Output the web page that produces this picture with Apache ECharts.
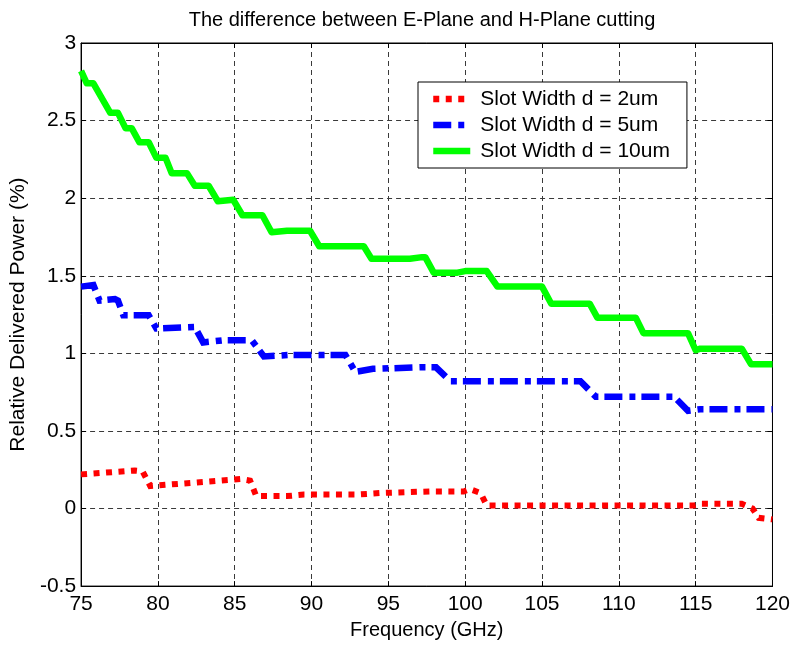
<!DOCTYPE html>
<html>
<head>
<meta charset="utf-8">
<title>E-Plane vs H-Plane cutting</title>
<script src="https://cdn.jsdelivr.net/npm/echarts@6/dist/echarts.min.js"></script>
<style>
  html, body { margin: 0; padding: 0; background: #fff; }
  #chart { width: 793px; height: 645px; }
</style>
</head>
<body>
<div id="chart"></div>
<script>
// Relative delivered power (%) versus frequency (GHz) for three slot widths.
const seriesNames = ['Slot Width d = 2um', 'Slot Width d = 5um', 'Slot Width d = 10um'];

const freq2um = [75, 78.5, 79, 79.5, 85.4, 86, 86.4, 88.4, 89.5, 93, 94.5, 97.7, 99.9, 100.3, 101, 101.4, 114.9, 115.4, 118, 118.7, 119.1, 120];
const power2um = [0.22, 0.245, 0.24, 0.145, 0.19, 0.18, 0.08, 0.08, 0.09, 0.09, 0.10, 0.11, 0.11, 0.125, 0.10, 0.02, 0.02, 0.03, 0.03, 0.0, -0.06, -0.07];

const freq5um = [75, 75.8, 76.2, 77.2, 77.4, 77.75, 79.4, 79.9, 82.4, 82.95, 84.3, 86.1, 86.9, 88.6, 92.2, 92.85, 94, 97.1, 98.1, 99.05, 107.5, 108.5, 113.6, 114.5, 115.3, 120];
const power5um = [1.43, 1.44, 1.34, 1.35, 1.34, 1.245, 1.245, 1.16, 1.17, 1.07, 1.085, 1.085, 0.98, 0.99, 0.99, 0.88, 0.90, 0.91, 0.91, 0.82, 0.82, 0.72, 0.72, 0.63, 0.64, 0.64];

const freq10um = [75, 75.37, 75.8, 76.9, 77.4, 77.9, 78.3, 78.8, 79.4, 79.9, 80.5, 80.9, 81.9, 82.4, 83.3, 83.9, 84.9, 85.5, 86.8, 87.4, 88.4, 89.9, 90.5, 93.4, 93.9, 96.4, 97.2, 97.4, 97.95, 99.5, 100, 101.4, 102.1, 105, 105.6, 108.1, 108.6, 111.1, 111.6, 114.5, 115, 115.3, 118, 118.6, 120];
const power10um = [2.82, 2.74, 2.74, 2.55, 2.55, 2.45, 2.45, 2.36, 2.36, 2.26, 2.26, 2.16, 2.16, 2.08, 2.08, 1.98, 1.99, 1.89, 1.89, 1.78, 1.79, 1.79, 1.69, 1.69, 1.61, 1.61, 1.62, 1.62, 1.52, 1.52, 1.53, 1.53, 1.43, 1.43, 1.32, 1.32, 1.23, 1.23, 1.13, 1.13, 1.02, 1.03, 1.03, 0.93, 0.93];

const xTicks = [75, 80, 85, 90, 95, 100, 105, 110, 115, 120];
const yTicks = [-0.5, 0, 0.5, 1, 1.5, 2, 2.5, 3];

const pairs = (xs, ys) => xs.map((x, i) => [x, ys[i]]);

const FONT = '"Liberation Sans", Arial, sans-serif';

const chart = echarts.init(document.getElementById('chart'), null, { renderer: 'canvas' });

const gridDash = { color: '#3a3a3a', width: 1, type: [5, 4] };
const tickStyle = { show: true, inside: true, length: 5, lineStyle: { color: '#000', width: 1 } };
const frameLine = { show: true, onZero: false, lineStyle: { color: '#000', width: 1 } };

const xBase = {
  type: 'value',
  min: xTicks[0],
  max: xTicks[xTicks.length - 1],
  interval: xTicks[1] - xTicks[0]
};
const yBase = {
  type: 'value',
  min: yTicks[0],
  max: yTicks[yTicks.length - 1],
  interval: yTicks[1] - yTicks[0]
};

chart.setOption({
  animation: false,
  backgroundColor: '#fff',
  textStyle: { fontFamily: FONT },
  title: {
    text: 'The difference between E-Plane and H-Plane cutting',
    left: 417,
    textAlign: 'center',
    top: 5,
    textStyle: { fontFamily: FONT, fontSize: 20, fontWeight: 'normal', color: '#000' }
  },
  grid: {
    left: 80, right: 20, top: 43, bottom: 56,
    show: true, borderColor: '#000', borderWidth: 1, backgroundColor: '#fff'
  },
  legend: {
    orient: 'vertical',
    left: 418,
    top: 82,
    padding: [4, 17, 4, 12],
    itemGap: 0,
    itemWidth: 37,
    itemHeight: 14,
    backgroundColor: '#fff',
    borderColor: '#000',
    borderWidth: 1,
    borderRadius: 0,
    data: seriesNames,
    itemStyle: { opacity: 0, borderWidth: 0 },
    lineStyle: { width: 6.5, cap: 'butt' },
    textStyle: { fontFamily: FONT, fontSize: 21, color: '#000', lineHeight: 26, padding: [0, 0, 0, 5] }
  },
  xAxis: [
    Object.assign({}, xBase, {
      position: 'bottom',
      name: 'Frequency (GHz)',
      nameLocation: 'middle',
      nameGap: 33,
      nameTextStyle: { fontFamily: FONT, fontSize: 20, color: '#000' },
      axisLine: frameLine,
      axisTick: tickStyle,
      axisLabel: { show: true, margin: 8, fontFamily: FONT, fontSize: 21, color: '#000' },
      splitLine: { show: true, lineStyle: gridDash }
    }),
    Object.assign({}, xBase, {
      position: 'top',
      axisLine: frameLine,
      axisTick: tickStyle,
      axisLabel: { show: false },
      splitLine: { show: false }
    })
  ],
  yAxis: [
    Object.assign({}, yBase, {
      position: 'left',
      name: 'Relative Delivered Power (%)',
      nameLocation: 'middle',
      nameGap: 51,
      nameTextStyle: { fontFamily: FONT, fontSize: 21, color: '#000' },
      axisLine: frameLine,
      axisTick: tickStyle,
      axisLabel: { show: true, margin: 5, fontFamily: FONT, fontSize: 21, color: '#000' },
      splitLine: { show: true, lineStyle: gridDash }
    }),
    Object.assign({}, yBase, {
      position: 'right',
      axisLine: frameLine,
      axisTick: tickStyle,
      axisLabel: { show: false },
      splitLine: { show: false }
    })
  ],
  series: [
    {
      name: seriesNames[0],
      type: 'line',
      xAxisIndex: 0, yAxisIndex: 0,
      symbol: 'none',
      data: pairs(freq2um, power2um),
      itemStyle: { color: '#ff0000' },
      lineStyle: { color: '#ff0000', width: 6, type: [6, 6.5], cap: 'butt', join: 'miter' }
    },
    {
      name: seriesNames[1],
      type: 'line',
      xAxisIndex: 0, yAxisIndex: 0,
      symbol: 'none',
      data: pairs(freq5um, power5um),
      itemStyle: { color: '#0000ff' },
      lineStyle: { color: '#0000ff', width: 6.5, type: [18, 7, 6, 6], cap: 'butt', join: 'miter' }
    },
    {
      name: seriesNames[2],
      type: 'line',
      xAxisIndex: 0, yAxisIndex: 0,
      symbol: 'none',
      data: pairs(freq10um, power10um),
      itemStyle: { color: '#00ff00' },
      lineStyle: { color: '#00ff00', width: 6.5, type: 'solid', cap: 'butt', join: 'round' }
    }
  ]
});
</script>
</body>
</html>
